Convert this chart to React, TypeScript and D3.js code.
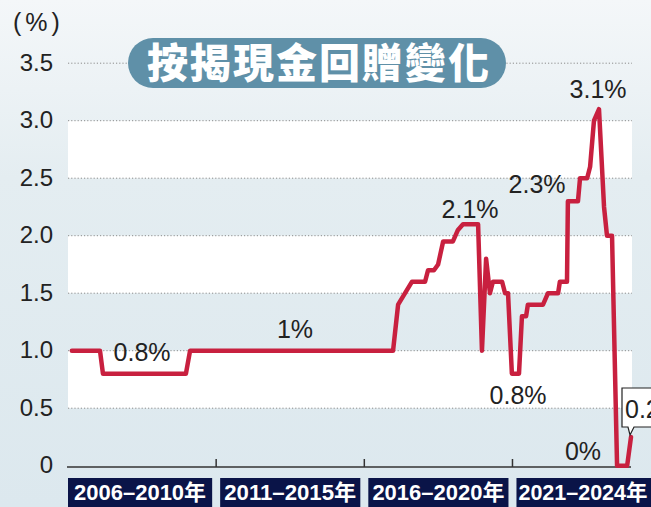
import React from "react";
import * as d3 from "d3";

// Data: decimal year and cashback rebate (%)
const years = [
  2006.13, 2007.08, 2007.18, 2009.98, 2010.12, 2016.97, 2017.14, 2017.61, 2018.05, 2018.15,
  2018.35, 2018.49, 2018.66, 2018.99, 2019.16, 2019.33, 2019.84, 2019.97, 2020.11, 2020.24,
  2020.34, 2020.65, 2020.75, 2020.85, 2020.98, 2021.22, 2021.32, 2021.46, 2021.52, 2022.03,
  2022.2, 2022.54, 2022.6, 2022.84, 2022.87, 2023.21, 2023.28, 2023.52, 2023.62, 2023.75,
  2023.92, 2024.09, 2024.19, 2024.36, 2024.53, 2024.87, 2025.0,
];
const rebates = [
  1.0, 1.0, 0.8, 0.8, 1.0, 1.0, 1.4, 1.6, 1.6, 1.7,
  1.7, 1.75, 1.95, 1.95, 2.05, 2.1, 2.1, 1.0, 1.8, 1.5,
  1.6, 1.6, 1.5, 1.5, 0.8, 0.8, 1.3, 1.3, 1.4, 1.4,
  1.5, 1.5, 1.6, 1.6, 2.3, 2.3, 2.5, 2.5, 2.6, 3.0,
  3.1, 2.25, 2.0, 2.0, 0.0, 0.0, 0.25,
];

const yTicks = [0, 0.5, 1.0, 1.5, 2.0, 2.5, 3.0, 3.5];
const yTickLabels = ["0", "0.5", "1.0", "1.5", "2.0", "2.5", "3.0", "3.5"];

const periodLabels = ["2006–2010年", "2011–2015年", "2016–2020年", "2021–2024年"];
const periodStarts = [2006, 2011, 2016, 2021];
const periodEnds = [2011, 2016, 2021, 2025];
const periodTicks = [2011, 2016, 2021];

const annoTexts = ["0.8%", "1%", "2.1%", "0.8%", "2.3%", "3.1%", "0%"];
const annoYears = [2008.5, 2013.66, 2019.57, 2021.19, 2021.83, 2023.89, 2023.38];
const annoValues = [0.91, 1.11, 2.15, 0.536, 2.37, 3.2, 0.05];

const title = "按揭現金回贈變化";
const unitLabel = "(%)";
const endLabel = "0.25%";

const W = 651;
const H = 507;
const LEFT = 68;
const RIGHT = 631;
const BANDRIGHT = 632;

export default function App() {
  const x = d3.scaleLinear().domain([2006, 2025]).range([LEFT, RIGHT]);
  const y = d3.scaleLinear().domain([0, 3.5]).range([465.7, 63.2]);

  const line = d3
    .line<number>()
    .x((_, i) => x(years[i]))
    .y((d) => y(d));

  const sans = "'Liberation Sans', Arial, Helvetica, sans-serif";
  const bands = [
    [0.5, 1.0],
    [1.5, 2.0],
    [2.5, 3.0],
  ];

  const endX = x(years[years.length - 1]);
  const endY = y(rebates[rebates.length - 1]);

  return (
    <svg
      width={W}
      height={H}
      style={{ position: "absolute", left: 0, top: 0, display: "block" }}
    >
      <defs>
        <linearGradient id="bg" x1="0" y1="0" x2="0" y2="1">
          <stop offset="0" stopColor="#f4f7f9" />
          <stop offset="0.35" stopColor="#e4edf1" />
          <stop offset="1" stopColor="#dce8ee" />
        </linearGradient>
      </defs>
      <rect x={0} y={0} width={W} height={H} fill="url(#bg)" />

      {bands.map(([a, b], i) => (
        <rect
          key={i}
          x={LEFT}
          y={y(b)}
          width={BANDRIGHT - LEFT}
          height={y(a) - y(b)}
          fill="#ffffff"
        />
      ))}

      {yTicks.map((t, i) =>
        t === 0 ? null : (
          <line
            key={i}
            x1={LEFT}
            x2={BANDRIGHT}
            y1={y(t)}
            y2={y(t)}
            stroke="#8c8c8c"
            strokeWidth={1}
            strokeDasharray="1.2,2"
          />
        )
      )}

      {yTicks.map((t, i) => (
        <text
          key={i}
          x={53}
          y={y(t) - 1}
          dy="0.36em"
          textAnchor="end"
          fontFamily={sans}
          fontSize={24}
          fill="#222"
        >
          {yTickLabels[i]}
        </text>
      ))}

      <text x={13} y={31} fontFamily={sans} fontSize={25} fill="#222" letterSpacing={4}>
        {unitLabel}
      </text>

      {/* baseline and ticks */}
      <line x1={LEFT - 1} x2={RIGHT} y1={467} y2={467} stroke="#333" strokeWidth={1.6} />
      {periodTicks.map((t, i) => (
        <line key={i} x1={x(t)} x2={x(t)} y1={459} y2={467} stroke="#333" strokeWidth={1.5} />
      ))}

      {/* period label boxes */}
      {periodLabels.map((lab, i) => {
        const x0 = x(periodStarts[i]) + (i === 0 ? 0 : 4);
        const x1 = i === 3 ? W + 5 : x(periodEnds[i]) - 4;
        const tx = i === 3 ? x0 + 2 : (x0 + x1) / 2;
        return (
          <g key={i}>
            <rect x={x0} y={478} width={x1 - x0} height={35} fill="#0a1448" />
            <text
              x={tx}
              y={500}
              textAnchor={i === 3 ? "start" : "middle"}
              fontFamily="'Liberation Sans', 'Noto Sans CJK TC', sans-serif"
              fontWeight="bold"
              fontSize={i === 3 ? 21.5 : 22}
              fill="#ffffff"
              textLength={i === 3 ? 129 : 132}
              lengthAdjust="spacingAndGlyphs"
            >
              {lab}
            </text>
          </g>
        );
      })}

      {/* title pill */}
      <rect x={128} y={38} width={378} height={50} rx={25} ry={25} fill="#5f90a8" />
      <text
        x={319}
        y={63}
        dy="0.36em"
        textAnchor="middle"
        fontFamily="'Noto Sans CJK TC', 'Noto Sans CJK SC', sans-serif"
        fontWeight="900"
        fontSize={41}
        fill="#ffffff"
        letterSpacing={2}
      >
        {title}
      </text>

      {/* line */}
      <path
        d={line(rebates) || ""}
        fill="none"
        stroke="#c8203f"
        strokeWidth={4.5}
        strokeLinejoin="round"
        strokeLinecap="round"
      />

      {/* annotations */}
      {annoTexts.map((t, i) => (
        <text
          key={i}
          x={x(annoYears[i])}
          y={y(annoValues[i])}
          textAnchor="middle"
          fontFamily={sans}
          fontSize={25}
          fill="#222"
        >
          {t}
        </text>
      ))}

      {/* end callout */}
      <path
        d={`M622,388 L${W + 10},388 L${W + 10},427 L634,427 L${endX - 1},${endY - 2} L628,427 L622,427 Z`}
        fill="#ffffff"
        stroke="#222"
        strokeWidth={1.2}
      />
      <text x={625} y={418} fontFamily={sans} fontSize={25} fill="#222">
        {endLabel}
      </text>
    </svg>
  );
}
